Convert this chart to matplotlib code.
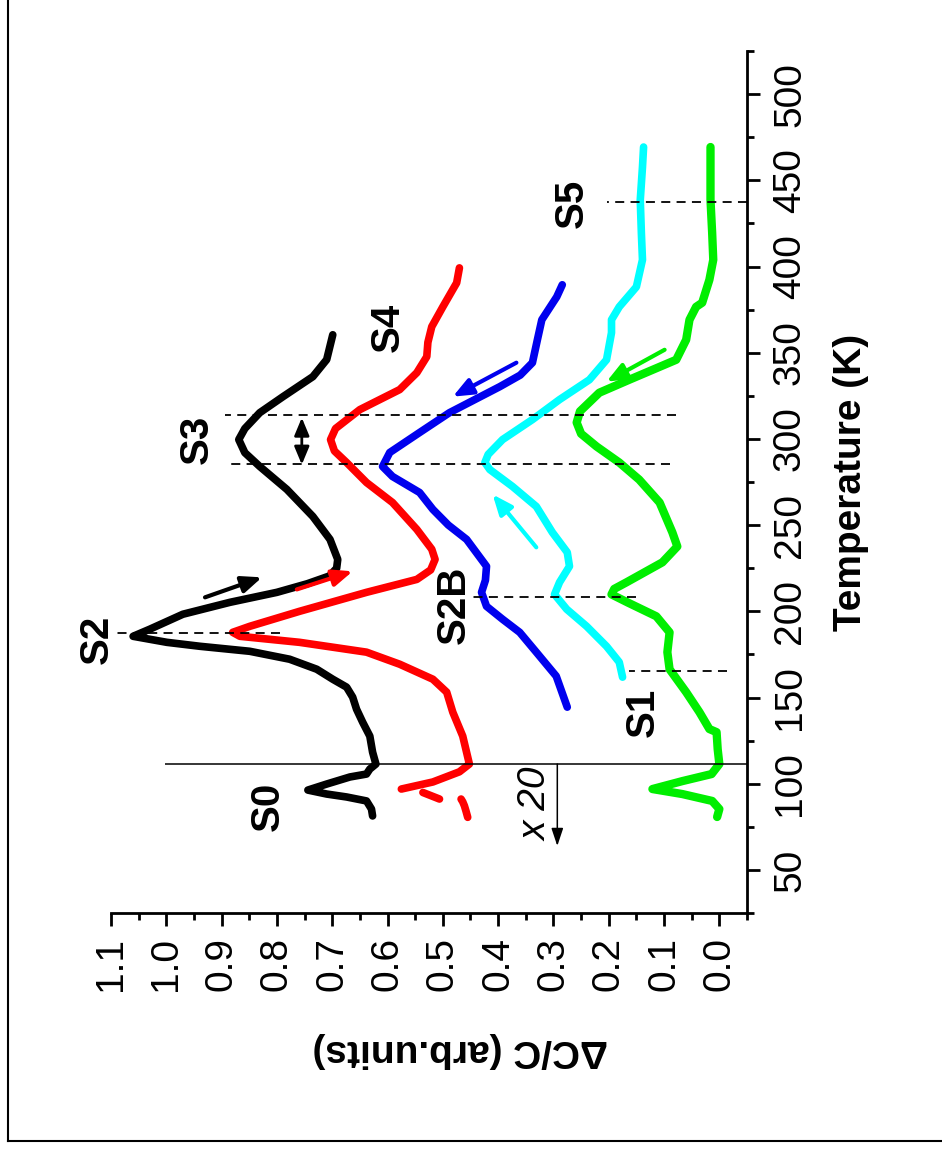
import numpy as np
import matplotlib
matplotlib.use("Agg")
import matplotlib.pyplot as plt
from matplotlib.ticker import MultipleLocator, FormatStrFormatter
from matplotlib.lines import Line2D

plt.rcParams['font.family'] = ['Liberation Sans', 'DejaVu Sans']

nan = np.nan

# ---- capacitance spectra: temperature (K) and ΔC/C (arb. units) ----
t_black = [81.3, 85.3, 90.0, 92.3, 94.0, 96.3, 99.8, 103.9, 105.6, 108.5, 111.4, 118.3,
           127.6, 135.7, 143.2, 150.2, 156.0, 160.6, 166.4, 172.2, 176.8, 179.7, 182.0,
           185.5, 189.6, 198.3, 205.2, 211.0, 216.0, 220.5, 225.0, 230.1, 241.7, 255.0,
           270.7, 284.0, 292.0, 299.6, 306.0, 315.2, 324.5, 336.1, 346.0, 360.4]
v_black = [0.627, 0.629, 0.638, 0.674, 0.710, 0.744, 0.710, 0.668, 0.638, 0.632, 0.621, 0.627,
           0.632, 0.645, 0.656, 0.663, 0.674, 0.699, 0.728, 0.777, 0.849, 0.939, 0.999,
           1.060, 1.030, 0.970, 0.885, 0.800, 0.745, 0.705, 0.692, 0.690, 0.704, 0.735,
           0.782, 0.831, 0.858, 0.869, 0.858, 0.831, 0.789, 0.735, 0.710, 0.699]

t_red = [80.5, 84.0, 87.2, 89.5, 91.1, nan, 91.1, 93.0, 94.9, nan, 96.9, 101.0, 106.9,
         111.4, 127.6, 141.5, 153.1, 160.6, 169.3, 176.3, 182.0, 185.5, 187.8, 191.3,
         200.0, 211.0, 218.5, 224.0, 230.1, 236.0, 247.5, 263.1, 274.7, 286.3, 293.0,
         299.6, 306.0, 317.0, 328.6, 338.4, 347.7, 356.0, 365.1, 376.6, 390.5, 399.2]
v_red = [0.455, 0.458, 0.461, 0.464, 0.467, nan, 0.506, 0.521, 0.536, nan, 0.575, 0.518, 0.470,
         0.452, 0.464, 0.482, 0.493, 0.518, 0.578, 0.638, 0.759, 0.867, 0.880, 0.849,
         0.759, 0.638, 0.547, 0.522, 0.514, 0.520, 0.547, 0.591, 0.638, 0.674, 0.696,
         0.703, 0.694, 0.650, 0.578, 0.547, 0.529, 0.527, 0.520, 0.500, 0.475, 0.470]

t_blue = [144.4, 162.4, 176.3, 187.8, 195.4, 202.9, 211.0, 218.0, 226.1, 241.7, 250.0,
          259.1, 268.9, 278.2, 284.0, 292.1, 303.7, 315.2, 330.3, 337.0, 344.2, 357.5,
          369.1, 382.4, 389.4]
v_blue = [0.275, 0.295, 0.331, 0.361, 0.392, 0.421, 0.430, 0.423, 0.421, 0.457, 0.490,
          0.518, 0.542, 0.591, 0.609, 0.596, 0.542, 0.488, 0.397, 0.360, 0.338, 0.329,
          0.321, 0.294, 0.284]

t_cyan = [161.8, 170.5, 179.7, 191.3, 201.2, 209.8, 216.8, 226.1, 234.2, 245.8, 260.8,
          272.4, 282.2, 286.3, 291.0, 299.6, 311.2, 322.8, 334.3, 345.9, 361.6, 369.1,
          376.6, 388.2, 403.9, 419.5, 438.6, 457.7, 469.3]
v_cyan = [0.175, 0.181, 0.204, 0.240, 0.276, 0.298, 0.289, 0.271, 0.275, 0.302, 0.331,
          0.374, 0.415, 0.424, 0.418, 0.392, 0.338, 0.289, 0.235, 0.204, 0.195, 0.195,
          0.181, 0.150, 0.139, 0.141, 0.143, 0.139, 0.137]

t_green = [80.7, 85.3, 90.0, 94.0, 96.9, 101.5, 105.6, 111.4, 120.0, 129.9, 131.7, 141.5,
           153.1, 166.4, 176.3, 187.8, 197.1, 205.0, 209.8, 213.0, 216.8, 228.4, 237.6,
           245.8, 263.1, 276.4, 286.3, 295.6, 303.0, 309.5, 316.0, 326.8, 334.3, 345.9,
           357.5, 369.1, 376.6, 379.0, 392.3, 403.9, 419.5, 438.6, 457.7, 469.3]
v_green = [0.004, 0.000, 0.013, 0.067, 0.121, 0.067, 0.014, 0.000, 0.003, 0.005, 0.018, 0.036,
           0.060, 0.090, 0.094, 0.090, 0.114, 0.165, 0.195, 0.190, 0.168, 0.103, 0.076,
           0.085, 0.108, 0.145, 0.181, 0.222, 0.250, 0.258, 0.252, 0.217, 0.163, 0.078,
           0.060, 0.054, 0.042, 0.031, 0.018, 0.011, 0.013, 0.016, 0.016, 0.016]

# ---- peak guide lines (temperature, ΔC/C span) ----
guide_t = [187.3, 314.0, 285.7, 208.3, 165.2, 437.4]
guide_v0 = [0.795, 0.078, 0.090, 0.150, -0.013, -0.050]
guide_v1 = [1.093, 0.894, 0.890, 0.446, 0.163, 0.204]

# ---- peak names ----
peak_names = ['S0', 'S2', 'S3', 'S4', 'S2B', 'S1', 'S5']
peak_t = [87.1, 183.8, 299.6, 364.5, 203.5, 141.5, 436.9]
peak_v = [0.816, 1.125, 0.945, 0.600, 0.481, 0.139, 0.267]

# ---- sweep-direction arrows: (ΔC/C, T) tail -> head ----
arrow_colors = ['black', 'red', '#0000ee', 'cyan', '#00ee00']
arrow_tail = [(0.930, 208.1), (0.764, 212.7), (0.367, 344.2), (0.331, 237.1), (0.099, 351.7)]
arrow_head = [(0.827, 219.7), (0.663, 223.2), (0.482, 324.5), (0.410, 267.8), (0.204, 333.2)]

scale_t = 111.4     # boundary of the magnified region
scale_factor_text = 'x 20'

fig = plt.figure(figsize=(9.42, 11.52), dpi=100)
ax = fig.add_axes([111 / 942, 1 - 913 / 1152, (747 - 111) / 942, (913 - 51) / 1152])

curve_kw = dict(lw=5.5, solid_capstyle='round', solid_joinstyle='round')
ax.plot(v_black, t_black, color='black', **curve_kw)
ax.plot(v_red, t_red, color='#ff0000', **curve_kw)
ax.plot(v_blue, t_blue, color='#0000ee', **curve_kw)
ax.plot(v_cyan, t_cyan, color='#00ffff', **curve_kw)
ax.plot(v_green, t_green, color='#00ee00', lw=6, solid_capstyle='round', solid_joinstyle='round')

ax.hlines(guide_t, guide_v0, guide_v1, colors='black', lw=1.3, linestyles=(0, (5, 3.5)))
ax.hlines([scale_t], [1.003], [-0.05], colors='black', lw=1.1)

for name, t, v in zip(peak_names, peak_t, peak_v):
    ax.text(v, t, name, rotation=90, fontsize=29, fontweight='bold',
            ha='center', va='center', clip_on=False)

for c, tail, head in zip(arrow_colors, arrow_tail, arrow_head):
    ax.annotate('', xy=head, xytext=tail,
                arrowprops=dict(arrowstyle='-|>,head_length=0.6,head_width=0.25',
                                color=c, lw=3, mutation_scale=20, shrinkA=0, shrinkB=0))

ax.annotate('', xy=(0.755, 285.1), xytext=(0.755, 312.3),
            arrowprops=dict(arrowstyle='<|-|>,head_length=0.6,head_width=0.25',
                            color='black', lw=2, mutation_scale=18, shrinkA=0, shrinkB=0))

ax.annotate('', xy=(0.293, 63.9), xytext=(0.293, scale_t),
            arrowprops=dict(arrowstyle='-|>,head_length=0.6,head_width=0.2',
                            color='black', lw=1.1, mutation_scale=18, shrinkA=0, shrinkB=0))
ax.text(0.331, 88.2, scale_factor_text, rotation=90, fontsize=28, style='italic',
        ha='center', va='center')

# ---- axes ----
ax.set_xlim(1.1, -0.05)
ax.set_ylim(25, 525)
for side in ('left', 'top'):
    ax.spines[side].set_visible(False)
for side in ('right', 'bottom'):
    ax.spines[side].set_linewidth(2)

ax.yaxis.tick_right()
ax.yaxis.set_label_position('right')
ax.xaxis.set_major_locator(MultipleLocator(0.1))
ax.xaxis.set_minor_locator(MultipleLocator(0.05))
ax.xaxis.set_major_formatter(FormatStrFormatter('%.1f'))
ax.yaxis.set_major_locator(MultipleLocator(50))
ax.yaxis.set_minor_locator(MultipleLocator(25))

ax.tick_params(which='both', direction='out', width=2, labelsize=28)
ax.tick_params(which='major', length=9.5)
ax.tick_params(which='minor', length=5)
ax.tick_params(axis='x', which='both', bottom=True, top=False, pad=8)
ax.tick_params(axis='y', which='both', right=True, left=False, pad=8.5)

for lbl in ax.get_xticklabels():
    lbl.set_rotation(90)
    lbl.set_ha('center')
    lbl.set_va('top')
for lbl in ax.get_yticklabels():
    lbl.set_rotation(90)
    lbl.set_ha('left')
    lbl.set_va('center')

ax.set_ylabel('Temperature (K)', fontsize=28, fontweight='bold', rotation=90,
              ha='center', va='center')
ax.yaxis.set_label_coords((851 - 111) / 636, 0.5)
ax.set_xlabel('ΔC/C (arb.units)', fontsize=28, fontweight='bold', rotation=180,
              ha='center', va='center')
ax.xaxis.set_label_coords((460 - 111) / 636, (913 - 1050) / 862)

# ---- outer frame ----
fx0, fy0 = 8 / 942, 1 - 1141 / 1152
fig.add_artist(Line2D([fx0, fx0], [fy0, 1.0], color='black', lw=1.5))
fig.add_artist(Line2D([fx0, 1.0], [fy0, fy0], color='black', lw=1.5))

fig.savefig('out.png', dpi=100)
